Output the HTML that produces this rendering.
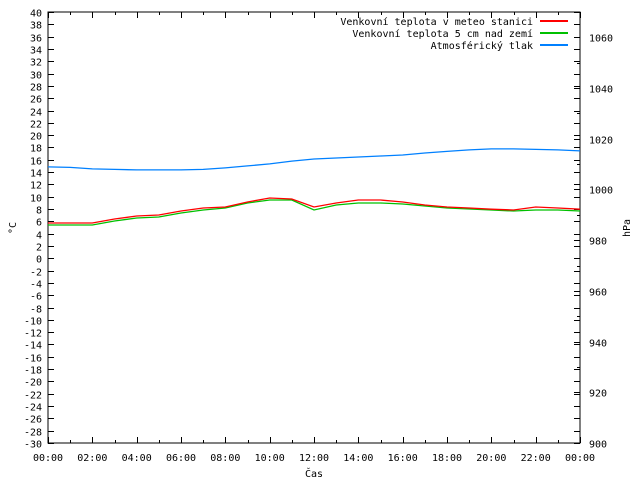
<!DOCTYPE html>
<html><head><meta charset="utf-8"><style>
html,body{margin:0;padding:0;background:#fff}
svg text{font-family:"DejaVu Sans Mono","Liberation Mono",monospace;font-size:10px;fill:#000}
</style></head><body>
<svg id="chart" width="640" height="480" xmlns="http://www.w3.org/2000/svg">
<g id="axes"></g><g id="series"></g><g id="legend"></g>
</svg>
<script>
const hours=[0,1,2,3,4,5,6,7,8,9,10,11,12,13,14,15,16,17,18,19,20,21,22,23,24];
const tempStation=[5.73,5.73,5.73,6.38,6.87,7.03,7.68,8.17,8.33,9.14,9.79,9.63,8.33,8.98,9.47,9.47,9.14,8.66,8.33,8.17,7.98,7.84,8.33,8.17,7.98];
const temp5cm=[5.41,5.41,5.41,6.06,6.54,6.71,7.35,7.84,8.17,8.98,9.47,9.47,7.84,8.66,8.98,8.98,8.82,8.49,8.17,8.0,7.84,7.68,7.84,7.84,7.68];
const pressure=[1008.9,1008.7,1008.1,1007.9,1007.7,1007.7,1007.7,1007.9,1008.5,1009.3,1010.1,1011.2,1012.0,1012.4,1012.8,1013.2,1013.6,1014.4,1015.0,1015.6,1016.0,1016.0,1015.8,1015.6,1015.2];
const xLabels=["00:00","02:00","04:00","06:00","08:00","10:00","12:00","14:00","16:00","18:00","20:00","22:00","00:00"];
const leftTicks=[];for(let v=-30;v<=40;v+=2)leftTicks.push(v);
const rightTicks=[900,920,940,960,980,1000,1020,1040,1060];

const L=48,R=580,T=12,B=443;
const xS=h=>L+(h/24)*(R-L);
const yL=v=>B-(v+30)/70*(B-T);
const yR=p=>B-(p-900)/170*(B-T);
const NS="http://www.w3.org/2000/svg";
function mk(tag,attrs,parent,txt){const e=document.createElementNS(NS,tag);for(const k in attrs)e.setAttribute(k,attrs[k]);if(txt!==undefined)e.textContent=txt;parent.appendChild(e);return e;}
const ax=document.getElementById('axes');
let f=mk('rect',{x:L,y:T,width:R-L,height:B-T,fill:'none',stroke:'#000','stroke-width':1},ax);


leftTicks.forEach(v=>{const y=Math.round(yL(v))+0.5;
 mk('line',{x1:L,x2:L+6,y1:y,y2:y,stroke:'#000'},ax);
 mk('line',{x1:R,x2:R-6,y1:y,y2:y,stroke:'#000'},ax);
 const t=mk('text',{x:42,y:y+4,'text-anchor':'end'},ax,String(v));
 
 });
for(let p=900;p<=1070;p+=10){const y=Math.round(yR(p))+0.5;
 mk('line',{x1:R,x2:R-(p%20==0?6:3),y1:y,y2:y,stroke:'#000'},ax);}
rightTicks.forEach(p=>{const y=Math.round(yR(p))+0.5;
 const t=mk('text',{x:589,y:y+4},ax,String(p));
 
 });
for(let h=0;h<=24;h++){const x=Math.round(xS(h))+0.5;const len=h%2==0?6:3;
 mk('line',{x1:x,x2:x,y1:B,y2:B-len,stroke:'#000'},ax);
 mk('line',{x1:x,x2:x,y1:T,y2:T+len,stroke:'#000'},ax);}
xLabels.forEach((s,i)=>{const t=mk('text',{x:xS(i*2),y:461,'text-anchor':'middle'},ax,s);
 
 });
let xt=mk('text',{x:314,y:477,'text-anchor':'middle'},ax,'Čas');


let yt=mk('text',{x:16,y:228,'text-anchor':'middle',transform:'rotate(-90 16 228)'},ax,'°C');


let yt2=mk('text',{x:630,y:228,'text-anchor':'middle',transform:'rotate(-90 630 228)'},ax,'hPa');



const sg=document.getElementById('series');
function line(vals,yf,color,name){const pts=vals.map((v,i)=>xS(hours[i]).toFixed(1)+','+yf(v).toFixed(1)).join(' ');
 const p=mk('polyline',{points:pts,fill:'none',stroke:color,'stroke-width':1.3},sg);
 
 }
line(pressure,yR,'#0080ff','line-pressure');
line(temp5cm,yL,'#00c000','line-temp-5cm');
line(tempStation,yL,'#ff0000','line-temp-station');

const lg=document.getElementById('legend');
[['Venkovní teplota v meteo stanici','#ff0000',21],['Venkovní teplota 5 cm nad zemí','#00c000',33],['Atmosférický tlak','#0080ff',45]].forEach(([s,c,y])=>{
 const t=mk('text',{x:533,y:y+4,'text-anchor':'end'},lg,s);
 
 
 const l=mk('rect',{x:540,y:y-1,width:28,height:2,fill:c},lg);
 
 });
</script>
</body></html>
